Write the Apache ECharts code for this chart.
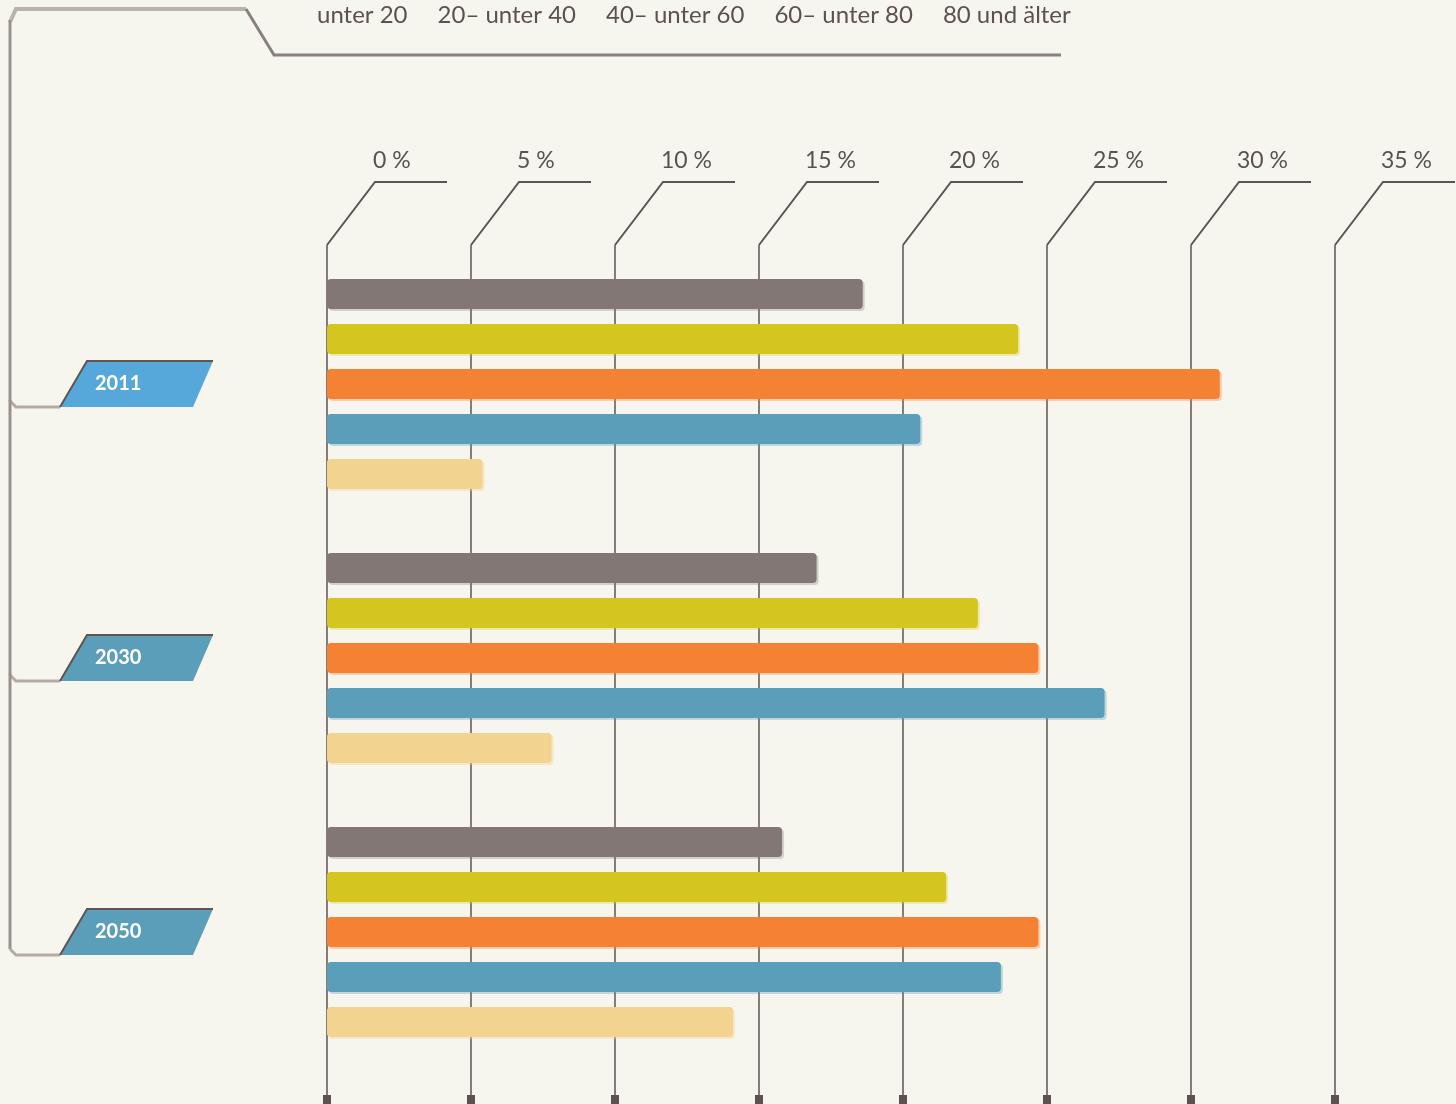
<!DOCTYPE html>
<html><head><meta charset="utf-8">
<script src="https://cdn.jsdelivr.net/npm/echarts@6/dist/echarts.min.js"></script>
<style>html,body{margin:0;padding:0;background:#f7f6ee}#c{width:1456px;height:1104px}</style>
</head><body><div id="c"></div>
<script>
const years = ['2011', '2030', '2050'];
const ageGroups = ['unter 20', '20\u2013 unter 40', '40\u2013 unter 60', '60\u2013 unter 80', '80 und älter'];
const under20 = [18.6, 17.0, 15.8];
const from20to40 = [24.0, 22.6, 21.5];
const from40to60 = [31.0, 24.7, 24.7];
const from60to80 = [20.6, 27.0, 23.4];
const over80 = [5.4, 7.8, 14.1];
const tickValues = [0, 5, 10, 15, 20, 25, 30, 35];
const tickLabels = ['0 %', '5 %', '10 %', '15 %', '20 %', '25 %', '30 %', '35 %'];

const seriesValues = [under20, from20to40, from40to60, from60to80, over80];
const colors = ['#827774', '#d4c61e', '#f58233', '#5b9eba', '#f2d38f'];
const shadowColors = ['rgba(130,119,116,0.3)', 'rgba(212,198,30,0.3)', 'rgba(245,130,51,0.35)', 'rgba(91,158,186,0.35)', 'rgba(242,211,143,0.4)'];
const yearColors = ['#57a8da', '#5b9eba', '#5b9eba'];
const FONT = 'Lato, "Open Sans", sans-serif';

const chart = echarts.init(document.getElementById('c'), null, {renderer: 'canvas'});

const barSeries = seriesValues.map((vals, k) => ({
  type: 'bar',
  name: ageGroups[k],
  data: vals,
  barWidth: 30,
  barGap: '50%',
  z: 2,
  silent: true,
  itemStyle: {
    color: colors[k],
    borderRadius: 4,
    shadowColor: shadowColors[k],
    shadowOffsetX: 2,
    shadowOffsetY: 2
  }
}));

const tickSeries = {
  type: 'custom',
  z: 1,
  silent: true,
  clip: false,
  data: tickValues.map(v => [v]),
  encode: {x: 0},
  renderItem(params, api) {
    const x = api.coord([api.value(0), 0])[0];
    const cs = params.coordSys;
    const top = cs.y - 2;
    const H = api.getHeight();
    return {
      type: 'group',
      children: [
        {type: 'line', shape: {x1: x, y1: H, x2: x, y2: top}, style: {stroke: '#857b79', lineWidth: 2}},
        {type: 'polyline', shape: {points: [[x, top], [x + 48, top - 63], [x + 120, top - 63]]}, style: {stroke: '#5e5553', lineWidth: 2, fill: null}},
        {type: 'rect', shape: {x: x - 4, y: H - 9, width: 8, height: 9}, style: {fill: '#5b5151'}},
        {type: 'text', style: {text: tickLabels[params.dataIndex], x: x + 46, y: top - 84, verticalAlign: 'middle', align: 'left', fill: '#5b5151', font: '23px ' + FONT}}
      ]
    };
  }
};

const yearSeries = {
  type: 'custom',
  z: 3,
  silent: true,
  clip: false,
  data: years.map((y, i) => [0, i]),
  encode: {x: 0, y: 1},
  renderItem(params, api) {
    const i = params.dataIndex;
    const cy = api.coord([0, api.value(1)])[1];
    const b = cy + 23, t = cy - 23;
    const prev = i === 0 ? 20 : api.coord([0, i - 1])[1] + 23 - 7;
    return {
      type: 'group',
      children: [
        {type: 'line', shape: {x1: 10, y1: prev, x2: 10, y2: b - 6}, style: {stroke: '#9a918e', lineWidth: 3}},
        {type: 'polyline', shape: {points: [[10, b - 6], [16, b], [60, b]]}, style: {stroke: '#b3aba4', lineWidth: 3, fill: null}},
        {type: 'polygon', shape: {points: [[60, b], [87, t], [213, t], [193, b]]}, style: {fill: yearColors[i]}},
        {type: 'polyline', shape: {points: [[60, b], [87, t], [213, t]]}, style: {stroke: '#5e5553', lineWidth: 2, fill: null}},
        {type: 'text', style: {text: years[i], x: 95, y: cy, verticalAlign: 'middle', align: 'left', fill: '#ffffff', font: 'bold 20px ' + FONT}}
      ]
    };
  }
};

chart.setOption({
  backgroundColor: '#f7f6ee',
  animation: false,
  grid: {left: 327, right: 121, top: 247, bottom: 35},
  legend: {
    data: ageGroups,
    left: 312,
    top: 3,
    padding: 0,
    icon: 'none',
    itemWidth: 0,
    itemHeight: 0,
    itemGap: 25,
    selectedMode: false,
    textStyle: {fontFamily: FONT, fontSize: 24, color: '#5b5151'}
  },
  xAxis: {type: 'value', min: 0, max: 35, interval: 5, show: false},
  yAxis: {type: 'category', data: years, inverse: true, show: false},
  graphic: [
    {type: 'polyline', shape: {points: [[10, 22], [16, 9], [246, 9]]}, style: {stroke: '#bab3ab', lineWidth: 4, fill: null}, z: 0},
    {type: 'polyline', shape: {points: [[246, 9], [274, 55], [1061, 55]]}, style: {stroke: '#8a807e', lineWidth: 3, fill: null}, z: 0}
  ],
  series: [tickSeries, ...barSeries, yearSeries]
});
</script></body></html>
